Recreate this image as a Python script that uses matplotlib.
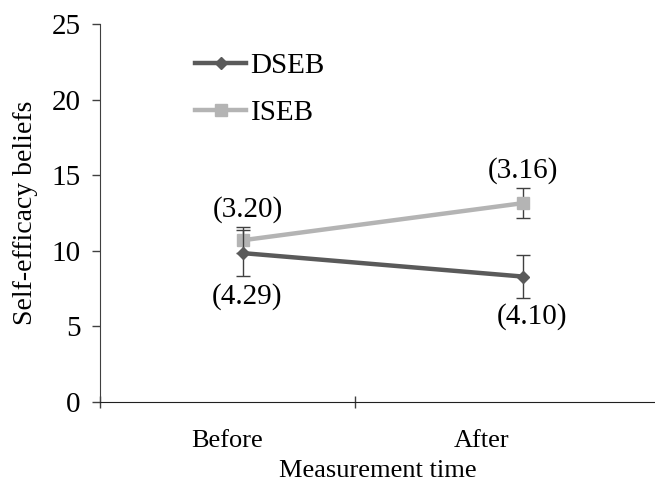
import matplotlib.pyplot as plt
from matplotlib.lines import Line2D

plt.rcParams['font.family'] = ['Liberation Serif', 'DejaVu Serif']

# Data
times = ['Before', 'After']
dseb_mean = [9.85, 8.3]
dseb_err = [1.5, 1.45]
iseb_mean = [10.7, 13.15]
iseb_err = [0.85, 1.0]
dseb_sd = ['(4.29)', '(4.10)']
iseb_sd = ['(3.20)', '(3.16)']

# category slots: boundaries at 0,1,2 ; points sit a bit right of centre
xpos = [0.56, 1.66]

fig = plt.figure(figsize=(6.55, 4.88), dpi=100)
ax = fig.add_axes([0.153, 0.176, 0.847, 0.775])

dark = '#5a5a5a'
light = '#b4b4b4'
ebar = '#404040'

ax.errorbar(xpos, dseb_mean, yerr=dseb_err, color=dark, lw=3.2, marker='D',
            ms=6, ecolor=ebar, elinewidth=1, capsize=5, capthick=1, zorder=3)
ax.errorbar(xpos, iseb_mean, yerr=iseb_err, color=light, lw=3.2, marker='s',
            ms=9, ecolor=ebar, elinewidth=1, capsize=5, capthick=1, zorder=2)

fs_big = 21
fs = 19
ax.text(0.58, 12.7, iseb_sd[0], ha='center', va='center', fontsize=fs_big)
ax.text(0.576, 6.95, dseb_sd[0], ha='center', va='center', fontsize=fs_big)
ax.text(1.663, 15.28, iseb_sd[1], ha='center', va='center', fontsize=fs_big)
ax.text(1.698, 5.69, dseb_sd[1], ha='center', va='center', fontsize=fs_big)

ax.set_ylim(0, 25)
ax.set_yticks([0, 5, 10, 15, 20, 25])
ax.set_xlim(0, 2.18)
ax.set_xticks([0, 1])
ax.set_xticklabels([])
ax.set_xticks([0.5, 1.5], minor=True)
ax.set_xticklabels(times, minor=True)
ax.tick_params(axis='x', which='minor', length=0, pad=20, labelsize=fs)
ax.tick_params(axis='x', which='major', direction='inout', length=9, width=1, color='#404040')
ax.tick_params(axis='y', direction='out', length=6, width=1, color='#404040', labelsize=fs_big, pad=8)

for s in ['top', 'right']:
    ax.spines[s].set_visible(False)
ax.spines['left'].set_color('#404040')
ax.spines['bottom'].set_color('#202020')

ax.set_ylabel('Self-efficacy beliefs', fontsize=20, labelpad=10)
ax.set_xlabel('Measurement time', fontsize=fs, labelpad=6)

handles = [Line2D([], [], color=dark, lw=3.2, marker='D', ms=6),
           Line2D([], [], color=light, lw=3.2, marker='s', ms=9)]
ax.legend(handles, ['DSEB', 'ISEB'], loc='upper left', bbox_to_anchor=(0.171, 0.924),
          frameon=False, fontsize=fs_big, handlelength=1.75, labelspacing=0.7,
          handletextpad=0.15, borderpad=0, borderaxespad=0)

fig.savefig('out.png', dpi=100)
